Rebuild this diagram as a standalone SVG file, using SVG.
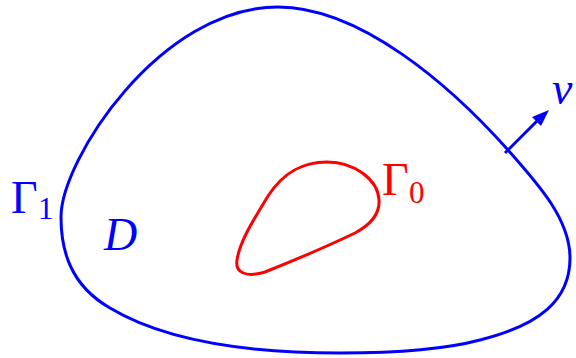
<svg xmlns="http://www.w3.org/2000/svg" width="576" height="358" viewBox="0 0 576 358">
<style>
.lbl{font-family:"Liberation Serif","DejaVu Serif",serif;font-size:46px}
.sub{font-family:"Liberation Serif","DejaVu Serif",serif;font-size:31px}
.it{font-style:italic}
.blue{fill:#0000ff}
.red{fill:#ff0000}
.curve{fill:none;stroke-width:3;stroke-linejoin:round}
</style>
<g id="gamma1">
<path class="curve" stroke="#0000ff" d="M61,217 C61,160 160,7 278,7 C360,7 450,85 508,150 C540,186 570,220 570,258 C570,300 540,325 480,340 C450,348 400,353 340,353 C240,353 160,338 110,308 C70,285 61,250 61,217 Z"/>
<text class="lbl blue" x="11" y="213">Γ</text>
<text class="sub blue" x="38" y="219">1</text>
</g>
<g id="gamma0">
<path class="curve" stroke="#ff0000" d="M327,162 C355,162 378,180 379,200 C380,215 370,225 355,233 C330,245 300,258 265,272 C245,278 235,272 237,260 C240,240 255,218 268,196 C285,170 305,162 327,162 Z"/>
<text class="lbl red" x="382" y="195">Γ</text>
<text class="sub red" x="409" y="203">0</text>
</g>
<g id="domain">
<text class="lbl it blue" x="104" y="250">D</text>
</g>
<g id="connectors">
<path d="M505,153 L537,121" stroke="#0000ff" stroke-width="3" fill="none"/>
<path d="M549,110 L532,117 L541,126 Z" fill="#0000ff"/>
</g>
<g id="nu">
<text class="lbl it blue" x="552" y="104">ν</text>
</g>
</svg>
